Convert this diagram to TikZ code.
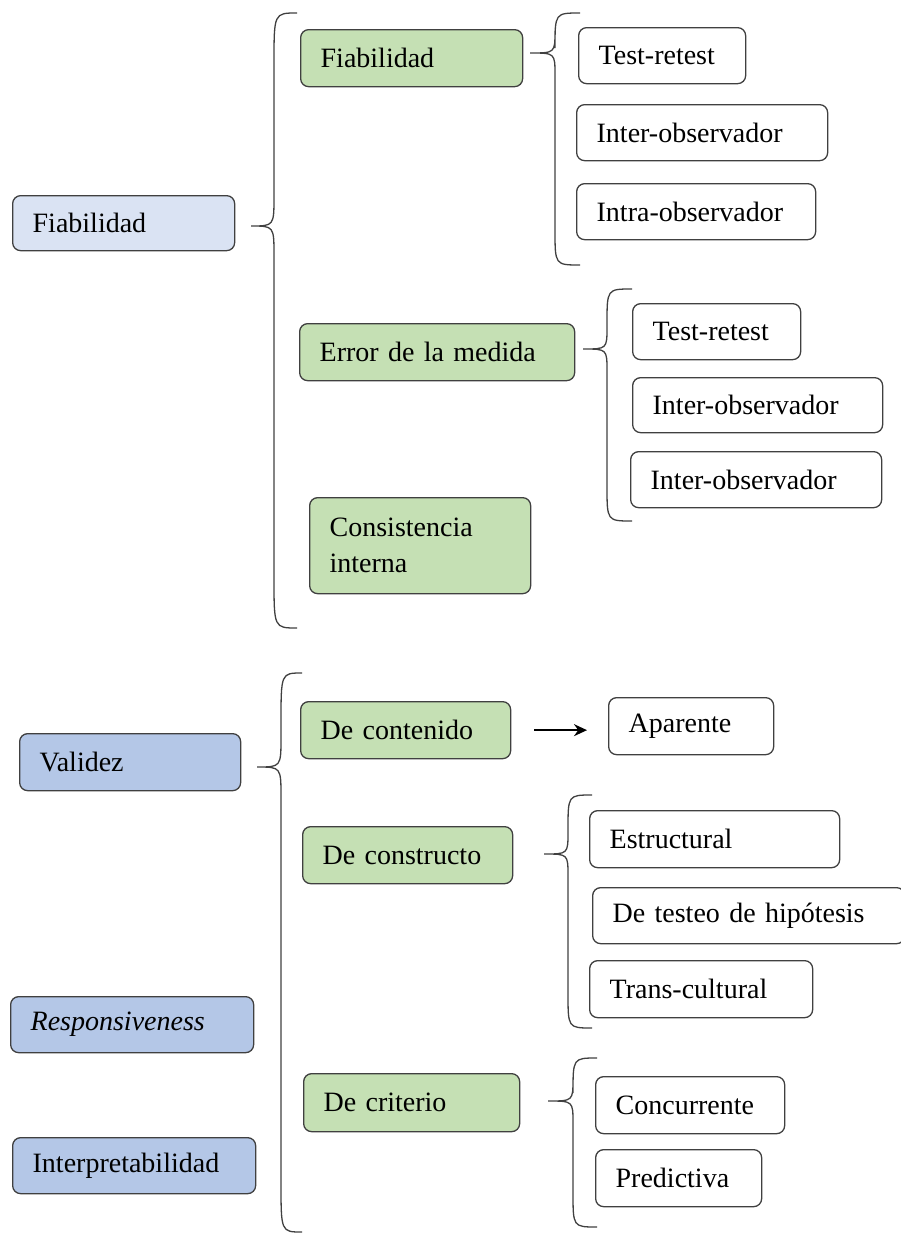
\documentclass[tikz,border=0pt]{standalone}
\usepackage{fontspec}
\setmainfont{Liberation Serif}
\usetikzlibrary{arrows.meta}
\definecolor{lblue}{HTML}{DAE3F3}
\definecolor{mblue}{HTML}{B4C7E7}
\definecolor{lgreen}{HTML}{C5E0B4}
\definecolor{edge}{HTML}{404040}
% tipx tipy vx ex ty by kend ktip
\newcommand\mybrace[8]{%
  \draw[bracestyle] (#4,#5) .. controls (#3,#5) .. (#3,{#5+#7}) -- (#3,{#2-#8})
    .. controls (#3,#2) .. (#1,#2) .. controls (#3,#2) .. (#3,{#2+#8})
    -- (#3,{#6-#7}) .. controls (#3,#6) .. (#4,#6);}
\begin{document}
\begin{tikzpicture}[x=1pt,y=-1pt,
  box/.style={draw=edge, line width=1.3pt, rounded corners=8pt, anchor=north west,
    inner xsep=20pt, inner ysep=0pt, align=left,
    font=\fontsize{28}{36}\selectfont},
  blbox/.style={box, fill=lblue},
  bbox/.style={box, fill=mblue},
  gbox/.style={box, fill=lgreen},
  wbox/.style={box, fill=white},
  bracestyle/.style={draw=edge, line width=1.3pt},
  arrowst/.style={draw=black, line width=1.7pt, -{Stealth[length=13pt,width=12pt]}}]
\useasboundingbox (0,0) rectangle (900,1234);
% left column
\node[blbox, minimum width=222pt, text width=182pt, minimum height=55pt] (fiab) at (12,195) {Fiabilidad};
\node[bbox, minimum width=221pt, text width=181pt, minimum height=57pt] (val) at (19,733) {Validez};
\node[bbox, minimum width=243pt, text width=203pt, minimum height=56pt] (resp) at (10,996) {\textit{Responsiveness}};
\node[bbox, minimum width=243pt, text width=203pt, minimum height=56pt] (interp) at (12,1137) {Interpretabilidad};
% green column
\node[gbox, minimum width=222pt, text width=182pt, minimum height=57pt] (gfiab) at (300,29) {Fiabilidad};
\node[gbox, minimum width=275pt, text width=235pt, minimum height=57pt] (err) at (299,323) {Error de la medida};
\node[gbox, minimum width=221pt, text width=181pt, minimum height=96pt] (cons) at (309,497) {Consistencia\\interna};
\node[gbox, minimum width=210pt, text width=170pt, minimum height=57pt] (cont) at (300,701) {De contenido};
\node[gbox, minimum width=210pt, text width=170pt, minimum height=57pt] (constr) at (302,826) {De constructo};
\node[gbox, minimum width=216pt, text width=176pt, minimum height=58pt] (crit) at (303,1073) {De criterio};
% white boxes
\node[wbox, minimum width=167pt, text width=127pt, minimum height=56pt] (t1) at (578,27) {Test-retest};
\node[wbox, minimum width=251pt, text width=211pt, minimum height=56pt] (io1) at (576,104) {Inter-observador};
\node[wbox, minimum width=239pt, text width=199pt, minimum height=56pt] (intra) at (576,183) {Intra-observador};
\node[wbox, minimum width=168pt, text width=128pt, minimum height=56pt] (t2) at (632,303) {Test-retest};
\node[wbox, minimum width=250pt, text width=210pt, minimum height=55pt] (io2) at (632,377) {Inter-observador};
\node[wbox, minimum width=251pt, text width=211pt, minimum height=56pt] (io3) at (630,451) {Inter-observador};
\node[wbox, minimum width=165pt, text width=125pt, minimum height=57pt] (apar) at (608,697) {Aparente};
\node[wbox, minimum width=250pt, text width=210pt, minimum height=57pt] (estr) at (589,810) {Estructural};
\node[wbox, minimum width=312pt, text width=272pt, minimum height=56pt] (hip) at (592,887) {De testeo de hipótesis};
\node[wbox, minimum width=223pt, text width=183pt, minimum height=57pt] (trans) at (589,960) {Trans-cultural};
\node[wbox, minimum width=189pt, text width=149pt, minimum height=57pt] (conc) at (595,1076) {Concurrente};
\node[wbox, minimum width=166pt, text width=126pt, minimum height=57pt] (pred) at (595,1149) {Predictiva};
% braces
\mybrace{251}{226}{274}{297}{13}{628}{50}{30}
\mybrace{530}{53}{555}{580}{13}{265}{35}{22}
\mybrace{583}{349}{607}{632}{289}{521}{35}{22}
\mybrace{257}{767}{281}{302}{673}{1232}{50}{30}
\mybrace{544}{854}{568}{592}{795}{1028}{35}{22}
\mybrace{548}{1101}{573}{597}{1058}{1227}{35}{22}
% arrow
\draw[arrowst, shorten <=23pt, shorten >=21pt] (cont.east) -- (cont.east -| apar.west);
\end{tikzpicture}
\end{document}
